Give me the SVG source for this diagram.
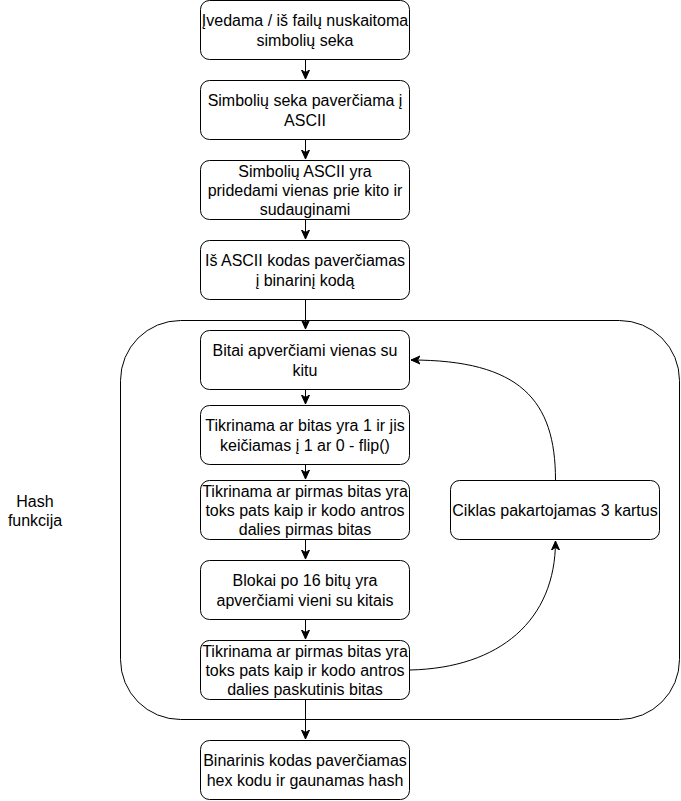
<svg xmlns="http://www.w3.org/2000/svg" width="681" height="801" viewBox="0 0 681 801">
<defs>
<style>
.box{fill:#fff;stroke:#000;stroke-width:1}
.t{font-family:"Liberation Sans",Arial,sans-serif;font-size:16px;fill:#000;text-anchor:middle}
.c{fill:none;stroke:#000;stroke-width:1}
</style>
<marker id="ah" viewBox="0 0 10 10" refX="9" refY="5" markerWidth="10" markerHeight="10" markerUnits="userSpaceOnUse" orient="auto">
<path d="M0,1 L9,5 L0,9 L2.5,5 Z" fill="#000" stroke="#000" stroke-width="1"/>
</marker>
</defs>
<rect width="681" height="801" fill="#fff"/>
<g id="container">
<rect x="120.5" y="320.5" width="559" height="399" rx="60" ry="60" class="box"/>
<text class="t" x="35" y="506.5">Hash</text>
<text class="t" x="35" y="525.5">funkcija</text>
</g>
<g id="n1"><rect x="200.5" y="0.5" width="209" height="59" rx="9" class="box"/>
<text class="t" x="305" y="26">Įvedama / iš failų nuskaitoma</text>
<text class="t" x="305" y="45.5">simbolių seka</text></g>
<g id="n2"><rect x="200.5" y="80.5" width="209" height="59" rx="9" class="box"/>
<text class="t" x="305" y="106">Simbolių seka paverčiama į</text>
<text class="t" x="305" y="125.5">ASCII</text></g>
<g id="n3"><rect x="200.5" y="160.5" width="209" height="59" rx="9" class="box"/>
<text class="t" x="305" y="176.5">Simbolių ASCII yra</text>
<text class="t" x="305" y="195.5">pridedami vienas prie kito ir</text>
<text class="t" x="305" y="215">sudauginami</text></g>
<g id="n4"><rect x="200.5" y="240.5" width="209" height="59" rx="9" class="box"/>
<text class="t" x="305" y="266">Iš ASCII kodas paverčiamas</text>
<text class="t" x="305" y="285.5">į binarinį kodą</text></g>
<g id="n5"><rect x="200.5" y="330.5" width="209" height="59" rx="9" class="box"/>
<text class="t" x="305" y="356">Bitai apverčiami vienas su</text>
<text class="t" x="305" y="375.5">kitu</text></g>
<g id="n6"><rect x="200.5" y="405.5" width="209" height="59" rx="9" class="box"/>
<text class="t" x="305" y="431">Tikrinama ar bitas yra 1 ir jis</text>
<text class="t" x="305" y="450.5">keičiamas į 1 ar 0 - flip()</text></g>
<g id="n7"><rect x="200.5" y="480.5" width="209" height="59" rx="9" class="box"/>
<text class="t" x="305" y="496.5">Tikrinama ar pirmas bitas yra</text>
<text class="t" x="305" y="515.5">toks pats kaip ir kodo antros</text>
<text class="t" x="305" y="535">dalies pirmas bitas</text></g>
<g id="n8"><rect x="200.5" y="560.5" width="209" height="59" rx="9" class="box"/>
<text class="t" x="305" y="586">Blokai po 16 bitų yra</text>
<text class="t" x="305" y="605.5">apverčiami vieni su kitais</text></g>
<g id="n9"><rect x="200.5" y="640.5" width="209" height="59" rx="9" class="box"/>
<text class="t" x="305" y="656.5">Tikrinama ar pirmas bitas yra</text>
<text class="t" x="305" y="675.5">toks pats kaip ir kodo antros</text>
<text class="t" x="305" y="695">dalies paskutinis bitas</text></g>
<g id="n10"><rect x="200.5" y="740.5" width="209" height="59" rx="9" class="box"/>
<text class="t" x="305" y="766">Binarinis kodas paverčiamas</text>
<text class="t" x="305" y="785.5">hex kodu ir gaunamas hash</text></g>
<g id="loop"><rect x="450.5" y="480.5" width="209" height="59" rx="9" class="box"/>
<text class="t" x="555" y="515.5">Ciklas pakartojamas 3 kartus</text></g>
<g id="connectors">
<path class="c" d="M305.5,60 V79" marker-end="url(#ah)"/>
<path class="c" d="M305.5,140 V159" marker-end="url(#ah)"/>
<path class="c" d="M305.5,220 V239" marker-end="url(#ah)"/>
<path class="c" d="M305.5,300 V329" marker-end="url(#ah)"/>
<path class="c" d="M305.5,390 V404" marker-end="url(#ah)"/>
<path class="c" d="M305.5,465 V479" marker-end="url(#ah)"/>
<path class="c" d="M305.5,540 V559" marker-end="url(#ah)"/>
<path class="c" d="M305.5,620 V639" marker-end="url(#ah)"/>
<path class="c" d="M305.5,700 V739" marker-end="url(#ah)"/>
<path class="c" d="M555.5,480 C555.5,400 520,360 411,360" marker-end="url(#ah)"/>
<path class="c" d="M410,670 C500,668 555.5,620 555.5,541" marker-end="url(#ah)"/>
</g>
</svg>
